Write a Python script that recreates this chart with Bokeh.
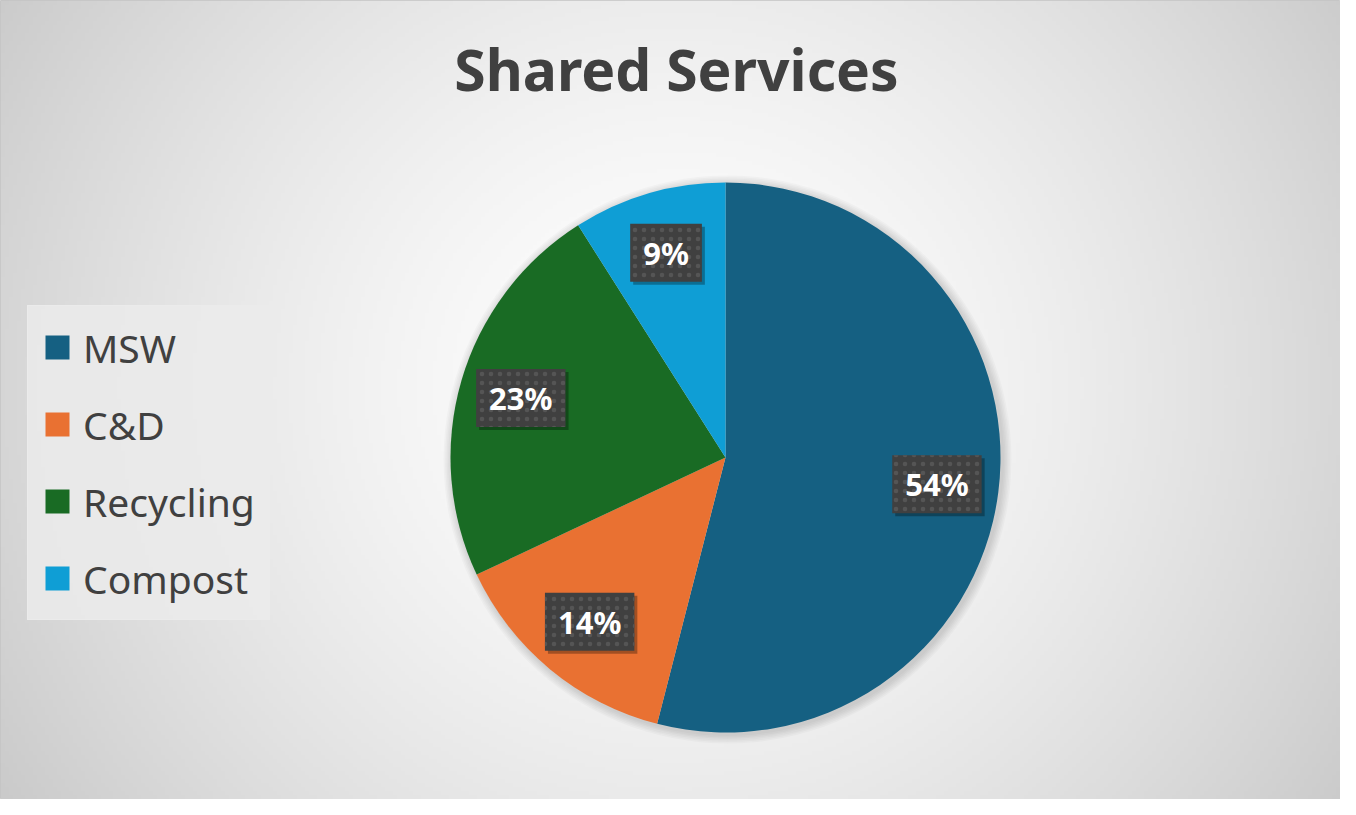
import numpy as np
from bokeh.plotting import figure
from bokeh.models import Range1d, Legend, LegendItem, ColumnDataSource, Label
from bokeh.core.properties import value
from bokeh.embed import file_html
from bokeh.resources import INLINE

# ---- data ----
categories = ["MSW", "C&D", "Recycling", "Compost"]
shares = [54, 14, 23, 9]
colors = ["#156082", "#E97132", "#196B24", "#0F9ED5"]
title_text = "Shared Services"

FONT = "Noto Sans"
W, H = 1340, 799
CX, CY, R = 725, 342, 275

p = figure(width=W, height=H, x_range=Range1d(0, W), y_range=Range1d(0, H),
           output_backend="svg", toolbar_location=None, min_border=0,
           x_axis_location=None, y_axis_location=None)
p.grid.visible = False
p.outline_line_color = "#c4c4c4"
p.outline_line_width = 1
p.background_fill_color = "#e0e0e0"
p.border_fill_color = "#e0e0e0"

# ---- radial gradient background ----
ny, nx = 200, 335
yy, xx = np.mgrid[0:ny, 0:nx]
px = (xx + 0.5) / nx * W
py = (yy + 0.5) / ny * H
gcx, gcy = 678, 412
t = np.sqrt(((px - gcx) / (W * 0.62)) ** 2 + ((py - gcy) / (H * 1.0)) ** 2)
g = np.clip(255 - 56 * t ** 1.5, 0, 255).astype(np.uint8)
img = np.empty((ny, nx), dtype=np.uint32)
view = img.view(dtype=np.uint8).reshape((ny, nx, 4))
view[:, :, 0] = g
view[:, :, 1] = g
view[:, :, 2] = g
view[:, :, 3] = 255
p.image_rgba(image=[img], x=0, y=0, dw=W, dh=H)

# ---- soft pie shadow ----
for k in range(1, 7):
    p.circle(x=CX + 2, y=CY - 2, radius=R + k * 1.5, fill_color="black",
             fill_alpha=0.025, line_color=None)

# ---- pie ----
total = float(sum(shares))
fr = np.array(shares) / total
cum = np.concatenate([[0.0], np.cumsum(fr)])
start = np.pi / 2 - 2 * np.pi * cum[:-1]
end = np.pi / 2 - 2 * np.pi * cum[1:]
src = ColumnDataSource(dict(cat=categories, share=shares, start=start, end=end,
                            color=colors))
wr = p.wedge(x=CX, y=CY, radius=R, start_angle="start", end_angle="end",
             direction="clock", fill_color="color", line_color=None, source=src)

# ---- data labels ----
mid = (start + end) / 2
lx = CX + 0.775 * R * np.cos(mid)
ly = CY + 0.775 * R * np.sin(mid)
labels = [f"{s}%" for s in shares]
lsrc = ColumnDataSource(dict(x=lx, y=ly, text=labels))
pad = dict(left=13, right=13, top=8, bottom=8)
p.text(x="x", y="y", text="text", source=lsrc, text_alpha=0,
       text_font=value(FONT), text_font_style="bold", text_font_size="31px",
       text_align="center", text_baseline="middle",
       x_offset=3, y_offset=3, padding=pad,
       background_fill_color="black", background_fill_alpha=0.3)
p.text(x="x", y="y", text="text", source=lsrc, text_color="white",
       text_font=value(FONT), text_font_style="bold", text_font_size="31px",
       text_align="center", text_baseline="middle", padding=pad,
       background_fill_color="#404040",
       background_hatch_pattern="dot", background_hatch_color="#555555",
       background_hatch_scale=9, background_hatch_weight=1.2)

# ---- legend ----
items = [LegendItem(label=c, renderers=[wr], index=i) for i, c in enumerate(categories)]
leg = Legend(items=items, location=(27, 179), orientation="vertical",
             glyph_width=30, glyph_height=30, label_height=54, spacing=23,
             padding=14, margin=0, label_standoff=11,
             label_text_font=FONT, label_text_font_size="39px",
             label_text_color="#404040",
             background_fill_color="#ebebeb", background_fill_alpha=0.85,
             border_line_color="#ebebeb", border_line_alpha=0.85,
             border_line_width=1)
p.add_layout(leg)

# ---- title ----
p.add_layout(Label(x=676, y=731, text=title_text, text_align="center",
                   text_baseline="alphabetic", text_font=FONT,
                   text_font_style="bold", text_font_size="57px",
                   text_color="#404040"))

open("out.html", "w").write(file_html(p, INLINE))
